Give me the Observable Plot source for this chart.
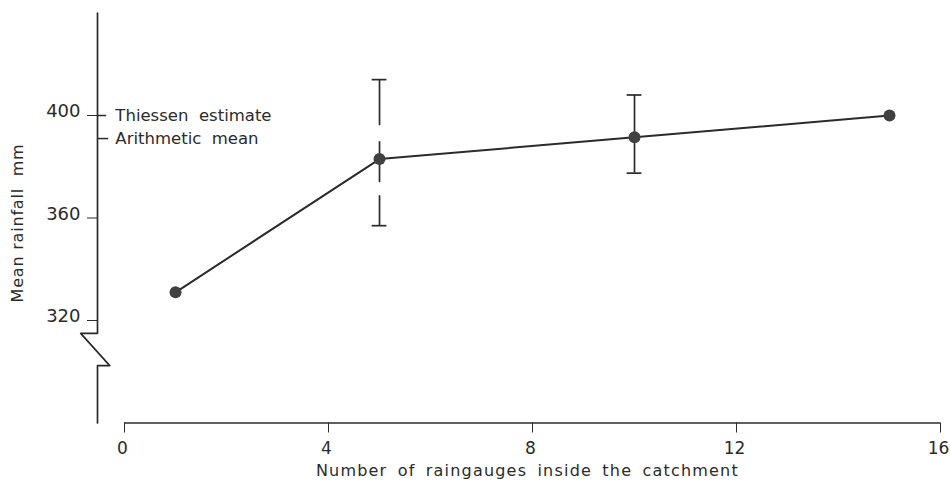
<!DOCTYPE html>
<html>
<head>
<meta charset="utf-8">
<script src="https://cdn.jsdelivr.net/npm/d3@7"></script>
<script src="https://cdn.jsdelivr.net/npm/@observablehq/plot@0.6"></script>
<style>
  html, body { margin: 0; padding: 0; background: #ffffff; }
  #chart { width: 950px; height: 489px; }
</style>
</head>
<body>
<div id="chart"></div>
<script>
// Mean catchment rainfall against the number of raingauges used
const gauges = [1, 5, 10, 15];
const meanRain = [331, 383, 391.5, 400];

// Spread of estimates for the sub-sampled gauge networks
const spreadGauges = [5, 10];
const spreadLow = [357, 377.5];
const spreadHigh = [414, 408];

// Reference estimates marked on the rainfall axis
const refNames = ["Thiessen  estimate", "Arithmetic  mean"];
const refValues = [400, 391];

// Axis ticks
const xTicks = [0, 4, 8, 12, 16];
const xTickLabels = ["0", "4", "8", "12", "16"];
const yTicks = [320, 360, 400];
const yTickLabels = ["320", "360", "400"];

const xTitle = "Number of raingauges inside the catchment";
const yTitle = "Mean rainfall  mm";

// Vertical axis position and broken-axis geometry (data units)
const axisX = -0.53;
const breakTop = 315;
const breakBottom = 302.4;
const yMin = 280, yMax = 440;

const points = gauges.map((g, i) => ({g, v: meanRain[i]}));
const spreads = spreadGauges.map((g, i) => ({g, lo: spreadLow[i], hi: spreadHigh[i]}));
const refs = refNames.map((name, i) => ({name, v: refValues[i]}));

const axisPath = [
  {x: axisX, y: yMax},
  {x: axisX, y: breakTop},
  {x: axisX - 0.33, y: breakTop},
  {x: axisX + 0.24, y: breakBottom},
  {x: axisX, y: breakBottom},
  {x: axisX, y: yMin}
];

const ink = "#2b2b2b";
const font = "'DejaVu Sans', sans-serif";

// applies extra letter / word spacing to a text mark's labels
const spaced = (letter, word) => (index, scales, values, dims, ctx, next) => {
  const g = next(index, scales, values, dims, ctx);
  d3.select(g).selectAll("text").style("letter-spacing", letter).style("word-spacing", word);
  return g;
};

const chart = Plot.plot({
  width: 950,
  height: 489,
  marginLeft: 97,
  marginRight: 10,
  marginTop: 12.5,
  marginBottom: 66.5,
  style: {fontFamily: font, fontSize: "17px", color: ink, background: "#ffffff", overflow: "visible"},
  x: {domain: [axisX, 16], ticks: xTicks, tickSize: 10, tickFormat: () => "", label: null},
  y: {domain: [yMin, yMax], ticks: yTicks, tickSize: 10, tickFormat: () => "", label: null},
  marks: [
    // broken vertical axis
    Plot.line(axisPath, {x: "x", y: "y", stroke: ink, strokeWidth: 1.7, curve: "linear"}),
    // horizontal axis line
    Plot.ruleY([yMin], {x1: 0, x2: 16, stroke: ink, strokeWidth: 1.7}),
    // tick labels
    Plot.text(yTicks, {y: d => d, text: (d, i) => yTickLabels[i], frameAnchor: "left", textAnchor: "end", dx: -17, dy: -4, fontSize: 18, fill: ink}),
    Plot.text(xTicks, {x: d => d, text: (d, i) => xTickLabels[i], frameAnchor: "bottom", textAnchor: "middle", lineAnchor: "middle", dx: -2, dy: 26, fontSize: 17, fill: ink}),
    // reference markers and their labels
    Plot.ruleY(refs, {y: "v", x1: axisX, x2: (d, i) => i === 0 ? -0.35 : -0.31, stroke: ink, strokeWidth: 1.5}),
    Plot.text(refs, {y: "v", x: -0.18, text: "name", textAnchor: "start", fontSize: 16.5, fill: ink}),
    // spread bars: the 5-gauge bar is drawn broken, the 10-gauge bar solid
    Plot.ruleX(spreads.filter(d => d.g === 5), {x: "g", y1: "hi", y2: "lo", stroke: ink, strokeWidth: 1.7, strokeDasharray: "46 16 41 13 32"}),
    Plot.ruleX(spreads.filter(d => d.g !== 5), {x: "g", y1: "hi", y2: "lo", stroke: ink, strokeWidth: 1.7}),
    Plot.ruleY(spreads, {y: "hi", x1: d => d.g - 0.145, x2: d => d.g + 0.145, stroke: ink, strokeWidth: 1.7}),
    Plot.ruleY(spreads, {y: "lo", x1: d => d.g - 0.145, x2: d => d.g + 0.145, stroke: ink, strokeWidth: 1.7}),
    // mean rainfall line and points
    Plot.line(points, {x: "g", y: "v", stroke: ink, strokeWidth: 2}),
    Plot.dot(points, {x: "g", y: "v", r: 6, fill: "#404040", stroke: "none"}),
    // axis titles
    Plot.text([xTitle], {x: 7.9, frameAnchor: "bottom", textAnchor: "middle", dy: 53, text: d => d, fontSize: 16, fill: ink,
      render: spaced("1.2px", "4px")}),
    Plot.text([yTitle], {frameAnchor: "left", textAnchor: "middle", dx: -80, dy: 5, rotate: -90, text: d => d, fontSize: 16, fill: ink,
      render: spaced("0.8px", "0px")})
  ]
});

document.getElementById("chart").appendChild(chart);
</script>
</body>
</html>
